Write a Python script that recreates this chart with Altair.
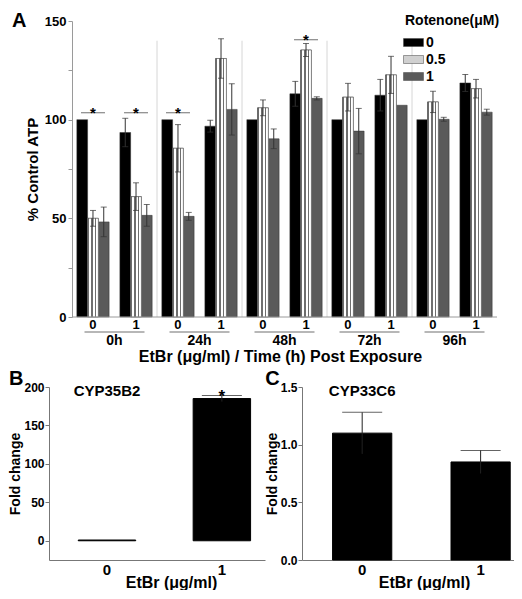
import altair as alt
import pandas as pd

FONT = "Liberation Sans"

# ---------------- Panel A data ----------------
times = ["0h", "24h", "48h", "72h", "96h"]
etbr_levels = ["0", "1"]
rotenone_levels = ["0", "0.5", "1"]

# rows: (time, EtBr) pairs in order; columns: rotenone 0, 0.5, 1
atp_mean = [
    [100.0, 50.0, 48.2],
    [93.5, 61.0, 51.5],
    [100.0, 85.5, 51.0],
    [96.7, 131.0, 105.2],
    [100.0, 106.0, 90.3],
    [113.1, 135.3, 110.8],
    [100.0, 111.4, 94.2],
    [112.4, 122.7, 107.3],
    [100.0, 109.0, 100.2],
    [118.6, 115.7, 103.8],
]
atp_err = [
    [0.0, 4.0, 7.5],
    [7.2, 7.0, 5.5],
    [0.0, 12.0, 2.0],
    [3.0, 10.0, 13.0],
    [0.0, 4.0, 5.0],
    [6.3, 3.3, 0.8],
    [0.0, 7.0, 11.5],
    [8.0, 9.4, 0.0],
    [0.0, 5.4, 1.0],
    [4.3, 4.7, 1.5],
]

sig_time = ["0h", "0h", "24h", "48h"]
sig_etbr = ["0", "1", "0", "1"]
sig_level = [103.5, 103.5, 103.5, 140.5]
separator_top = 140.0

# ---------------- Panel B / C data ----------------
gene_etbr = ["0", "1"]
cyp35b2_fold = [1.0, 185.0]
cyp35b2_err = [0.0, 4.0]
cyp33c6_fold = [1.1, 0.85]
cyp33c6_err = [0.18, 0.10]

# ---------------- build panel A table ----------------
slots = ["0|0", "0|0.5", "0|1", "gap", "1|0", "1|0.5", "1|1"]
rows = []
k = 0
for t in times:
    for e in etbr_levels:
        for j, r in enumerate(rotenone_levels):
            m = atp_mean[k][j]
            s = atp_err[k][j]
            rows.append(dict(kind="bar", time=t, etbr=e, rot=r, slot=f"{e}|{r}",
                             mean=m, err=s, lo=m - s, hi=m + s))
        rows.append(dict(kind="sub", time=t, etbr=e, rot="0.5", slot=f"{e}|0.5",
                         mean=0.0, err=0.0, lo=0.0, hi=0.0))
        k += 1
for t, e, v in zip(sig_time, sig_etbr, sig_level):
    rows.append(dict(kind="sig", time=t, etbr=e, rot="0.5", slot=f"{e}|0.5",
                     mean=v, err=0.0, lo=v, hi=v))
for t in times[:-1]:
    rows.append(dict(kind="sep", time=t, etbr="0", rot="0", slot="gap",
                     mean=separator_top, err=0.0, lo=0.0, hi=separator_top))
for t in times:
    rows.append(dict(kind="grp", time=t, etbr="0", rot="0", slot="gap",
                     mean=0.0, err=0.0, lo=0.0, hi=0.0))
df_a = pd.DataFrame(rows)

LEFT = 23            # room between panel origin and the y axis of panel A
A_W = 425 + LEFT
A_H = 296
BC_H = 173

time_scale = alt.Scale(domain=times, paddingInner=0, paddingOuter=LEFT / 170.0, align=1)
xA = alt.X("time:N", scale=time_scale,
           axis=alt.Axis(title="EtBr (μg/ml) / Time (h) Post Exposure", labelAngle=0,
                         ticks=False, domain=False, labelFontSize=14,
                         labelFontWeight="bold", labelFont=FONT, labelPadding=16,
                         titleFontSize=16, titleFontWeight="bold", titleFont=FONT,
                         titleX=231, titleY=39, titleBaseline="middle"))
xoffA = alt.XOffset("slot:N", scale=alt.Scale(domain=slots, paddingInner=0,
                                              paddingOuter=0.45))
yscaleA = alt.Scale(domain=[0, 150], nice=False, zero=True)
yaxisA = alt.Axis(values=[0, 25, 50, 75, 100, 125, 150], offset=-LEFT,
                  labelExpr="datum.value % 50 === 0 ? datum.label : ''",
                  title="% Control ATP", titleFontSize=15, titleFontWeight="bold",
                  titleFont=FONT, titlePadding=4, labelFontSize=13, labelFontWeight="bold",
                  labelFont=FONT, labelPadding=2, tickSize=4, domainColor="#9a9a9a",
                  tickColor="#9a9a9a", grid=False)


def yA(field):
    return alt.Y(field, type="quantitative", scale=yscaleA, axis=yaxisA,
                 title="% Control ATP")


base = alt.Chart(df_a)

bars = base.transform_filter("datum.kind == 'bar'").mark_bar(
    stroke="#333333", strokeWidth=0.5).encode(
    x=xA, xOffset=xoffA, y=yA("mean"),
    color=alt.Color("rot:N",
                    scale=alt.Scale(domain=rotenone_levels,
                                    range=["#000000", "#d0d0d0", "#5a5a5a"]),
                    legend=alt.Legend(title="Rotenone(μM)", orient="none",
                                      legendX=356, legendY=-7,
                                      titleFontSize=14, titleFontWeight="bold",
                                      titleFont=FONT, labelFontSize=14,
                                      labelFontWeight="bold", labelFont=FONT,
                                      symbolType="M-1.25,-0.5H1.25V0.5H-1.25Z",
                                      symbolSize=256, symbolStrokeWidth=0.5,
                                      symbolStrokeColor="#444444", rowPadding=1,
                                      titlePadding=6, labelOffset=4, padding=0)),
)

stops = []
for p in range(3):
    a = p / 3.0
    stops += [alt.GradientStop(offset=a, color="#6e6e6e"),
              alt.GradientStop(offset=a + 0.15, color="#6e6e6e"),
              alt.GradientStop(offset=a + 0.15, color="#ffffff"),
              alt.GradientStop(offset=a + 1 / 3.0, color="#ffffff")]
checker = alt.LinearGradient(gradient="linear", x1=0, x2=1, y1=0, y2=0, stops=stops)

checkered = base.transform_filter(
    "datum.kind == 'bar' && datum.rot == '0.5'").mark_bar(
    fill=checker, stroke="#555555", strokeWidth=0.6).encode(
    x=xA, xOffset=xoffA, y=yA("mean"))

errsel = "datum.kind == 'bar' && datum.err > 0"
err_rule = base.transform_filter(errsel).mark_rule(
    color="#333333", strokeWidth=1).encode(
    x=xA, xOffset=xoffA, y=yA("lo"), y2="hi:Q")
cap_hi = base.transform_filter(errsel).mark_tick(
    orient="horizontal", size=6, thickness=1, color="#333333").encode(
    x=xA, xOffset=xoffA, y=yA("hi"))
cap_lo = base.transform_filter(errsel).mark_tick(
    orient="horizontal", size=6, thickness=1, color="#333333").encode(
    x=xA, xOffset=xoffA, y=yA("lo"))

sig_line = base.transform_filter("datum.kind == 'sig'").mark_tick(
    orient="horizontal", size=24, thickness=1, color="#333333").encode(
    x=xA, xOffset=xoffA, y=yA("mean"))
sig_star = base.transform_filter("datum.kind == 'sig'").mark_text(
    text="*", fontSize=15, fontWeight="bold", font=FONT, baseline="alphabetic",
    dy=5, color="black").encode(
    x=xA, xOffset=xoffA, y=yA("mean"))

separators = base.transform_filter("datum.kind == 'sep'").mark_rule(
    color="#d6d6d6", strokeWidth=1).encode(
    x=alt.X("time:N", bandPosition=1, scale=time_scale),
    y=yA("hi"), y2="lo:Q")

baseline = base.transform_filter("datum.kind == 'grp' && datum.time == '0h'").mark_rule(
    color="#9a9a9a", strokeWidth=1).encode(
    x=alt.X("time:N", bandPosition=0, scale=time_scale), x2=alt.value(A_W),
    y=yA("lo"))

sub_labels = base.transform_filter("datum.kind == 'sub'").mark_text(
    fontSize=13, fontWeight="bold", font=FONT, baseline="middle", color="black").encode(
    x=xA, xOffset=xoffA, y=alt.value(A_H + 8), text="etbr:N")

underline = base.transform_filter("datum.kind == 'grp'").mark_tick(
    orient="horizontal", size=60, thickness=1, color="#333333").encode(
    x=xA, y=alt.value(A_H + 15))

letter_a = base.transform_filter("datum.kind == 'grp' && datum.time == '0h'").mark_text(
    text="A", fontSize=20, fontWeight="bold", font=FONT, align="left",
    baseline="top", color="black").encode(
    x=alt.value(-37), y=alt.value(-10))

panel_a = alt.layer(bars, checkered, err_rule, cap_hi, cap_lo, sig_line, sig_star,
                    separators, baseline, sub_labels, underline, letter_a).properties(
    width=A_W, height=A_H)


# ---------------- Panels B and C ----------------
def gene_panel(letter, gene, fold, err, ydom, yvals, label_expr, fmt, gene_y,
               width, pad_outer, align, star):
    df = pd.DataFrame({"etbr": gene_etbr, "fold": fold, "err": err})
    df["lo"] = df["fold"] - df["err"]
    df["hi"] = df["fold"] + df["err"]
    x = alt.X("etbr:N", scale=alt.Scale(domain=gene_etbr, paddingInner=0.5,
                                        paddingOuter=pad_outer, align=align),
              axis=alt.Axis(title="EtBr (μg/ml)", labelAngle=0, ticks=False,
                            labelFontSize=15, labelFontWeight="bold", labelFont=FONT,
                            labelPadding=2, titleFontSize=16, titleFontWeight="bold",
                            titleFont=FONT, titleX=122, titleY=22,
                            titleBaseline="middle", domainColor="#777777"))
    ysc = alt.Scale(domain=ydom, nice=False, zero=False)
    yax = alt.Axis(values=yvals, labelExpr=label_expr, format=fmt,
                   title="Fold change", titleFontSize=14, titleFontWeight="bold",
                   titleFont=FONT, titlePadding=1, labelFontSize=12,
                   labelFontWeight="bold", labelFont=FONT, labelPadding=1,
                   tickSize=4, domainColor="#777777", tickColor="#777777", grid=False)

    def y(field):
        return alt.Y(field, type="quantitative", scale=ysc, axis=yax, title="Fold change")

    ch = alt.Chart(df)
    bar = ch.mark_bar(color="black", stroke="black", strokeWidth=1).encode(
        x=x, y=y("fold"), y2=alt.datum(0))
    rule = ch.transform_filter("datum.err > 0").mark_rule(color="#222222").encode(
        x=x, y=y("lo"), y2="hi:Q")
    cap = ch.transform_filter("datum.err > 0").mark_tick(
        orient="horizontal", size=40, thickness=1, color="#222222").encode(
        x=x, y=y("hi"))
    gene_txt = ch.transform_filter("datum.etbr == '0'").mark_text(
        text=gene, fontSize=15, fontWeight="bold", font=FONT, baseline="middle",
        color="black").encode(x=x, y=alt.datum(gene_y))
    layers = [bar, rule, cap, gene_txt]
    if star:
        layers.append(ch.transform_filter("datum.etbr == '1'").mark_text(
            text="*", fontSize=17, fontWeight="bold", font=FONT, baseline="alphabetic",
            dy=7, color="black").encode(x=x, y=y("hi")))
    return alt.layer(*layers).properties(
        width=width, height=BC_H,
        title=alt.TitleParams(letter, anchor="start", frame="bounds", fontSize=20,
                              fontWeight="bold", font=FONT, offset=-8))


panel_b = gene_panel("B", "CYP35B2", cyp35b2_fold, cyp35b2_err, [-25, 200],
                     [0, 50, 100, 150, 200], "datum.label", "d", 194.8, 216, 0.19, 0.67,
                     True)
panel_c = gene_panel("C", "CYP33C6", cyp33c6_fold, cyp33c6_err, [0, 1.5],
                     [0, 0.25, 0.5, 0.75, 1.0, 1.25, 1.5],
                     "datum.value % 0.5 === 0 ? datum.label : ''", ".1f", 1.466, 212,
                     0.145, 0.89, False)

chart = alt.concat(
    panel_a,
    alt.hconcat(panel_b, panel_c, spacing=0),
    columns=1, spacing=5, align="none",
).resolve_legend(color="independent").properties(
    padding={"left": 0, "top": 3, "right": 0, "bottom": 0}
).configure(font=FONT).configure_view(stroke=None).configure_axis(
    labelColor="black", titleColor="black")

chart.save("out.html", embed_options={"renderer": "svg", "actions": False})
